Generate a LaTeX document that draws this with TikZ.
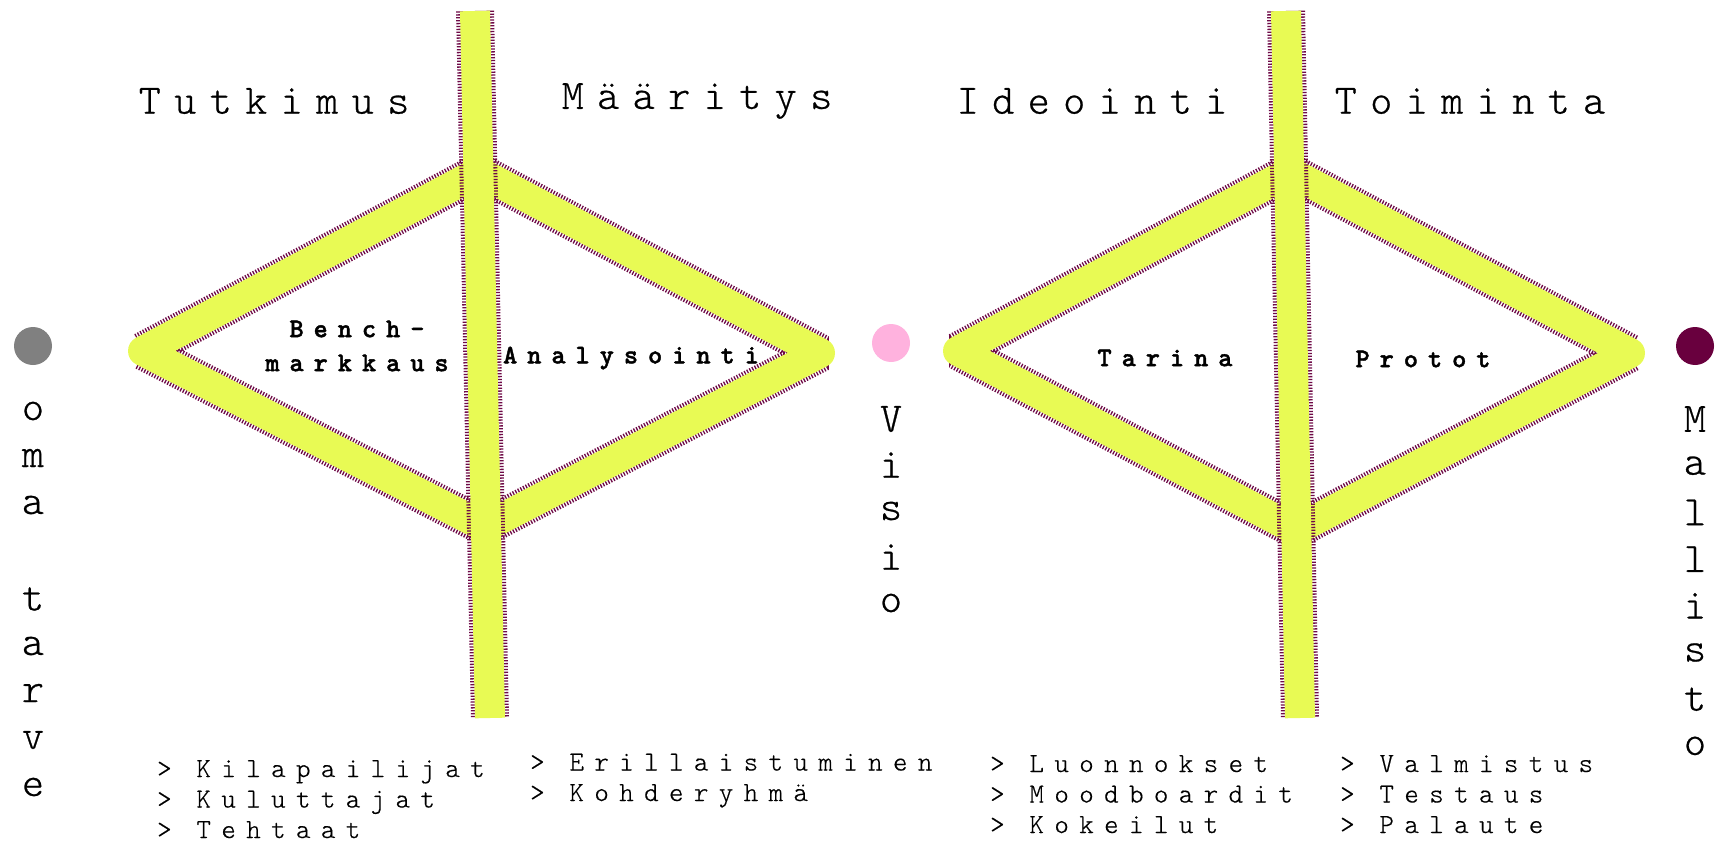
\documentclass[tikz,border=0pt]{standalone}
\usepackage{fontspec}
\setmonofont{Latin Modern Mono Light}
\usetikzlibrary{positioning}

\definecolor{limeyellow}{RGB}{232,250,84}
\definecolor{speck}{RGB}{110,10,70}
\definecolor{pinkdot}{RGB}{255,178,222}
\definecolor{winedot}{RGB}{105,0,62}
\definecolor{greydot}{RGB}{128,128,128}

\tikzset{
  brushedge/.style={line width=38pt, speck, dash pattern=on 1.3pt off 1.6pt, line join=bevel},
  brush/.style={line width=30pt, limeyellow, line join=round},
  phase/.style={font=\ttfamily\addfontfeature{LetterSpace=32,FakeBold=0.6}\fontsize{42}{42}\selectfont, inner sep=0pt},
  method/.style={font=\ttfamily\bfseries\addfontfeature{LetterSpace=37,FakeBold=1.5}\fontsize{27}{34}\selectfont, align=center, inner sep=0pt},
  items/.style={font=\ttfamily\addfontfeature{LetterSpace=38,FakeBold=0.5}\fontsize{27.5}{30.5}\selectfont, align=left, inner sep=0pt, anchor=base west},
  vletter/.style={font=\ttfamily\addfontfeature{FakeBold=0.6}\fontsize{42}{42}\selectfont, inner sep=0pt},
}

\begin{document}
\begin{tikzpicture}[x=1pt,y=-1pt]
\useasboundingbox (0,0) rectangle (1720,845);

% diamonds and bars
\foreach \l/\t/\r/\b/\bx/\by in {143/172/820/527/475/490, 958/172/1630/530/1286/1300}{
  \draw[brushedge] (\bx+4,\t) -- (\r,353) -- (\bx+10,\b) -- (\l,351) -- cycle;
  \draw[brush] (\bx+4,\t) -- (\r,353) -- (\bx+10,\b) -- (\l,351) -- cycle;
  \draw[brushedge, line cap=butt] (\bx,11) -- (\by,718);
  \draw[brush] (\bx,11) -- (\by,718);
}

% phase titles
\node[phase] (tutkimus) at (274,101) {Tutkimus};
\node[phase] (maaritys) at (697,101) {Määritys};
\node[phase] (ideointi) at (1092,101) {Ideointi};
\node[phase] (toiminta) at (1470,101) {Toiminta};

% methods inside the diamonds
\node[method] (bench) at (357,346) {Bench-\\markkaus};
\node[method] (analysointi) at (631,358) {Analysointi};
\node[method] (tarina) at (1165,358) {Tarina};
\node[method] (protot) at (1423,359) {Protot};

% milestones
\fill[greydot] (33,346) circle (19);
\fill[pinkdot] (891,343) circle (19);
\fill[winedot] (1695,346) circle (19);

\foreach \ch [count=\i] in {o,m,a,{},t,a,r,v,e}
  \node[vletter] (tarve\i) at (33,{411+47*(\i-1)}) {\ch};
\foreach \ch [count=\i] in {V,i,s,i,o}
  \node[vletter] (visio\i) at (891,{419+46*(\i-1)}) {\ch};
\foreach \ch [count=\i] in {M,a,l,l,i,s,t,o}
  \node[vletter] (mallisto\i) at (1695,{419+46.7*(\i-1)}) {\ch};

% lists (anchored at the last baseline)
\node[items] (list1) at (157,838) {> Kilapailijat\\> Kuluttajat\\> Tehtaat};
\node[items] (list2) at (530,801) {> Erillaistuminen\\> Kohderyhmä};
\node[items] (list3) at (990,833) {> Luonnokset\\> Moodboardit\\> Kokeilut};
\node[items] (list4) at (1340,833) {> Valmistus\\> Testaus\\> Palaute};
\end{tikzpicture}
\end{document}
